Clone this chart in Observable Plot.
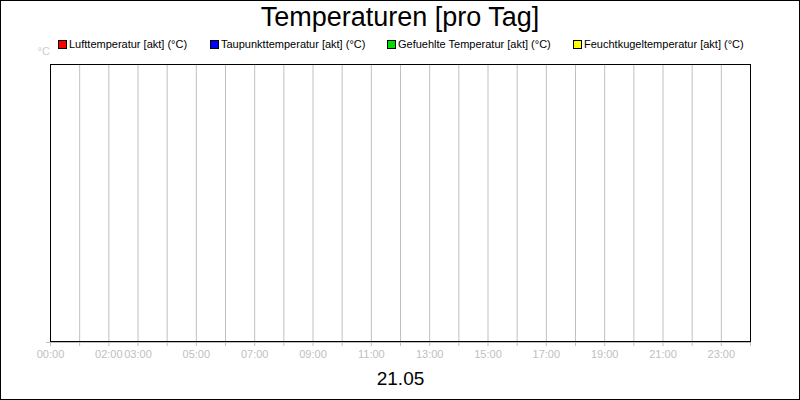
<!DOCTYPE html>
<html>
<head>
<meta charset="utf-8">
<script src="https://cdn.jsdelivr.net/npm/d3@7"></script>
<script src="https://cdn.jsdelivr.net/npm/@observablehq/plot@0.6"></script>
<style>
  html, body { margin: 0; padding: 0; background: #fff; }
  #wrap { position: relative; width: 800px; height: 400px; font-family: "Liberation Sans", Arial, sans-serif; overflow: hidden; }
  #border { position: absolute; left: 0; top: 0; width: 800px; height: 400px; box-sizing: border-box; border: 1px solid #000; pointer-events: none; z-index: 5; }
  #title { position: absolute; left: 0; width: 800px; top: 1px; text-align: center; font-size: 27px; line-height: 32px; color: #000; z-index: 3; }
  .leg { position: absolute; top: 37px; font-size: 11px; line-height: 14px; color: #000; white-space: nowrap; z-index: 3; }
  .sw { position: absolute; top: 3px; width: 7px; height: 7px; border: 1px solid #000; }
  #chart { position: absolute; left: 0; top: 30px; z-index: 1; }
</style>
</head>
<body>
<div id="wrap">
  <div id="border"></div>
  <div id="title"></div>
  <div id="legend"></div>
  <div id="chart"></div>
</div>
<script>
const title = "Temperaturen [pro Tag]";
const seriesNames = ["Lufttemperatur [akt] (°C)", "Taupunkttemperatur [akt] (°C)", "Gefuehlte Temperatur [akt] (°C)", "Feuchtkugeltemperatur [akt] (°C)"];
const seriesColors = ["#ff0000", "#0000ff", "#00dd00", "#ffff00"];
const legendLefts = [58, 210, 387, 573];
const hours = d3.range(0, 25);
const gridHours = d3.range(1, 24);
const labelHours = [0, 2, 3, 5, 7, 9, 11, 13, 15, 17, 19, 21, 23];
const dateLabel = "21.05";
const yUnit = "°C";

document.getElementById("title").textContent = title;
const legend = document.getElementById("legend");
seriesNames.forEach((name, i) => {
  const item = document.createElement("div");
  item.className = "leg";
  item.style.left = legendLefts[i] + "px";
  item.style.paddingLeft = "11px";
  const sw = document.createElement("div");
  sw.className = "sw";
  sw.style.left = "0px";
  sw.style.background = seriesColors[i];
  item.appendChild(sw);
  item.appendChild(document.createTextNode(name));
  legend.appendChild(item);
});

const grey = "#c0c0c0";
const fmt = h => String(h).padStart(2, "0") + ":00";

const chart = Plot.plot({
  width: 800,
  height: 370,
  marginLeft: 50,
  marginRight: 50,
  marginTop: 34,
  marginBottom: 59,
  style: { fontFamily: "Liberation Sans, Arial, sans-serif", fontSize: "11px", background: "transparent" },
  x: { domain: [0, 24] },
  y: { domain: [0, 1] },
  marks: [
    Plot.ruleX(gridHours, { stroke: grey }),
    Plot.ruleY([0], { stroke: grey, dy: 1 }),
    Plot.axisX(hours, { tickSize: 5, stroke: grey, tickFormat: () => "", label: null }),
    Plot.axisX(labelHours, { tickSize: 5, tickPadding: 4, strokeOpacity: 0, fill: grey, tickFormat: fmt, label: null }),
    Plot.axisY([0], { tickSize: 4, stroke: grey, dy: 1, tickFormat: () => "", label: null }),
    Plot.frame({ stroke: "#000" }),
    Plot.text([yUnit], { frameAnchor: "top-left", text: d => d, dx: -13, dy: -17, fill: "#cccccc", textAnchor: "start", fontSize: 11 }),
    Plot.text([dateLabel], { frameAnchor: "bottom", text: d => d, dy: 43, fill: "#000", fontSize: 19 })
  ]
});
document.getElementById("chart").appendChild(chart);
</script>
</body>
</html>
